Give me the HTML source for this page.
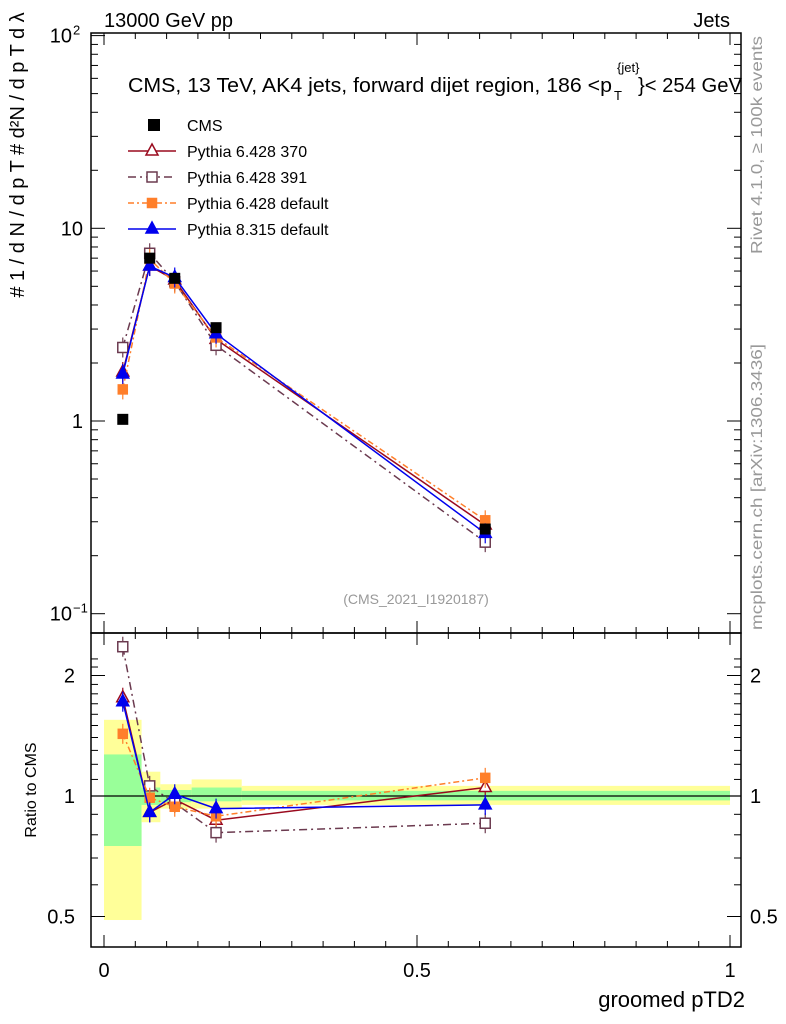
<!DOCTYPE html>
<html><head><meta charset="utf-8"><style>
body{margin:0;background:#fff;}
svg{display:block;font-family:"Liberation Sans",Arial,sans-serif;}
</style></head><body>
<svg id="c" width="786" height="1024" viewBox="0 0 786 1024" xmlns="http://www.w3.org/2000/svg"></svg>
<script>
// ---- data ----
const xCenters = [0.03, 0.073, 0.113, 0.179, 0.609];
const binEdges = [0, 0.06, 0.09, 0.14, 0.22, 1.0];
const cmsValues = [1.02, 7.0, 5.5, 3.05, 0.275];
const ratio370 = [1.76, 0.91, 0.98, 0.87, 1.05];
const ratio391 = [2.36, 1.06, 0.96, 0.81, 0.855];
const ratioP6def = [1.43, 0.99, 0.94, 0.89, 1.11];
const ratioP8 = [1.72, 0.91, 1.01, 0.93, 0.95];
const bandYellowHi = [1.55, 1.15, 1.07, 1.10, 1.06];
const bandYellowLo = [0.49, 0.86, 0.93, 0.93, 0.95];
const bandGreenHi = [1.27, 1.05, 1.035, 1.05, 1.03];
const bandGreenLo = [0.75, 0.95, 0.965, 0.97, 0.975];
const xTickLabels = ["0", "0.5", "1"];

const svg = document.getElementById('c');
const NS = 'http://www.w3.org/2000/svg';
function mk(tag, attrs, parent){const e=document.createElementNS(NS,tag);for(const k in attrs)e.setAttribute(k,attrs[k]);(parent||svg).appendChild(e);return e;}
const L=91,R=741,T1=33,B1=633,B2=947;
const xs = v => 104 + v*626;
const ysTop = v => 421 - Math.log10(v)*192.7;
const ysRat = v => 796 - Math.log2(v)*120.5;

// bands
for(let i=0;i<binEdges.length-1;i++){
  const x0=xs(binEdges[i]), x1=xs(binEdges[i+1]);
  let r=mk('rect',{x:x0,y:ysRat(bandYellowHi[i]),width:x1-x0,height:ysRat(bandYellowLo[i])-ysRat(bandYellowHi[i]),fill:'#ffff99'});
  
  
  let g=mk('rect',{x:x0,y:ysRat(bandGreenHi[i]),width:x1-x0,height:ysRat(bandGreenLo[i])-ysRat(bandGreenHi[i]),fill:'#99ff99'});
  
  
}
mk('line',{x1:L,x2:R,y1:ysRat(1),y2:ysRat(1),stroke:'#000','stroke-width':1.2});

// frames
const f1=mk('rect',{x:L,y:T1,width:R-L,height:B1-T1,fill:'none',stroke:'#000','stroke-width':1.5});


const f2=mk('rect',{x:L,y:B1,width:R-L,height:B2-B1,fill:'none',stroke:'#000','stroke-width':1.5});



// x ticks
for(let k=0;k<=20;k++){
  const v=k*0.05, x=xs(v), maj=(k%10===0), len=maj?12:6;
  [[T1,1],[B1,-1],[B1,1],[B2,-1]].forEach(([y,d])=>mk('line',{x1:x,x2:x,y1:y,y2:y+d*len,stroke:'#000','stroke-width':1}));
}
xTickLabels.forEach((t,i)=>{const e=mk('text',{x:xs(i*0.5),y:977,'font-size':20,'text-anchor':'middle'});e.textContent=t;
  
  });
// y ticks top (log)
for(let d=-1;d<2;d++)for(let m=1;m<10;m++){const v=m*Math.pow(10,d),y=ysTop(v);if(y<T1||y>B1)continue;const len=m===1?14:7;
  mk('line',{x1:L,x2:L+len,y1:y,y2:y,stroke:'#000'});mk('line',{x1:R,x2:R-len,y1:y,y2:y,stroke:'#000'});}
mk('line',{x1:L,x2:L+14,y1:ysTop(100),y2:ysTop(100),stroke:'#000'});
[["10",-1,"−1"],["1",0,""],["10",1,""],["10",2,"2"]].forEach(([b,p,s])=>{const e=mk('text',{x:s?72:83,y:ysTop(Math.pow(10,p))+7,'font-size':20,'text-anchor':'end'});e.textContent=b;
  
  
  if(s){const q=mk('text',{x:73,y:ysTop(Math.pow(10,p))-1,'font-size':13});q.textContent=s;}});
// y ticks ratio
[0.5,0.6,0.7,0.8,0.9,1,1.1,1.2,1.3,1.4,1.5,1.6,1.7,1.8,1.9,2,2.1,2.2].forEach(v=>{const y=ysRat(v);const maj=[0.5,1,2].includes(v);const len=maj?14:7;
  mk('line',{x1:L,x2:L+len,y1:y,y2:y,stroke:'#000'});mk('line',{x1:R,x2:R-len,y1:y,y2:y,stroke:'#000'});});
[["2",2],["1",1],["0.5",0.5]].forEach(([t,v])=>{let e=mk('text',{x:75,y:ysRat(v)+7,'font-size':20,'text-anchor':'end'});e.textContent=t;
  
  
  e=mk('text',{x:750,y:ysRat(v)+7,'font-size':20});e.textContent=t;
  
  });

// series
const series=[
 {name:'pythia6-370',r:ratio370,c:'#9a0a1e',dash:'',mk:'tri-open'},
 {name:'pythia6-391',r:ratio391,c:'#6b3a4f',dash:'8,4,2,4',mk:'sq-open'},
 {name:'pythia6-default',r:ratioP6def,c:'#ff7f2a',dash:'6,3,2,3',mk:'sq-fill'},
 {name:'pythia8-default',r:ratioP8,c:'#0000ee',dash:'',mk:'tri-fill'}];
function marker(type,x,y,c){
  if(type.startsWith('tri')){return mk('polygon',{points:`${x},${y-7} ${x-6},${y+4} ${x+6},${y+4}`,fill:type.endsWith('fill')?c:'#fff',stroke:c,'stroke-width':1.5});}
  const s=type.endsWith('fill')?4.5:5;
  return mk('rect',{x:x-s,y:y-s,width:2*s,height:2*s,fill:type.endsWith('fill')?c:'#fff',stroke:c,'stroke-width':1.5});
}
series.forEach(s=>{
  const topPts=xCenters.map((x,i)=>[xs(x),ysTop(s.r[i]*cmsValues[i])]);
  const ratPts=xCenters.map((x,i)=>[xs(x),ysRat(s.r[i])]);
  [topPts,ratPts].forEach((pts,pi)=>{
    const pl=mk('polyline',{points:pts.map(p=>p.join(',')).join(' '),fill:'none',stroke:s.c,'stroke-width':1.5,'stroke-dasharray':s.dash});
    
    
    pts.forEach(p=>{mk('line',{x1:p[0],x2:p[0],y1:p[1]-10,y2:p[1]+10,stroke:s.c,'stroke-width':1.2});
      const m=marker(s.mk,p[0],p[1],s.c);
      
      });
  });
});
// CMS data
xCenters.forEach((x,i)=>{const e=mk('rect',{x:xs(x)-5.5,y:ysTop(cmsValues[i])-5.5,width:11,height:11,fill:'#000'});
  
  });

// legend
const leg=[['CMS','#000','','sq-cms'],['Pythia 6.428 370','#9a0a1e','','tri-open'],['Pythia 6.428 391','#6b3a4f','8,4,2,4','sq-open'],['Pythia 6.428 default','#ff7f2a','6,3,2,3','sq-fill'],['Pythia 8.315 default','#0000ee','','tri-fill']];
leg.forEach((l,i)=>{const y=125+i*26;
  if(l[3]==='sq-cms'){mk('rect',{x:148,y:y-6,width:12,height:12,fill:'#000'});}
  else{mk('line',{x1:128,x2:176,y1:y,y2:y,stroke:l[1],'stroke-width':1.5,'stroke-dasharray':l[2]});marker(l[3],152,y,l[1]);}
  const t=mk('text',{x:187,y:y+6,'font-size':16});t.textContent=l[0];
  
  });

function txt(s,a,name){const e=mk('text',a);e.textContent=s;return e;}
txt('13000 GeV pp',{x:104,y:27,'font-size':20},'beam-label');
txt('Jets',{x:730,y:27,'font-size':20,'text-anchor':'end'},'process-label');
txt('CMS, 13 TeV, AK4 jets, forward dijet region, 186 <p',{x:128,y:92,'font-size':20,textLength:484,lengthAdjust:'spacingAndGlyphs'},'plot-title');
txt('T',{x:614,y:100,'font-size':13},'plot-title-sub');
txt('{jet}',{x:617,y:72,'font-size':13},'plot-title-sup');
txt('}< 254 GeV',{x:638,y:92,'font-size':20,textLength:104,lengthAdjust:'spacingAndGlyphs'},'plot-title-end');
txt('(CMS_2021_I1920187)',{x:416,y:604,'font-size':14,fill:'#999','text-anchor':'middle'},'analysis-id');
txt('groomed pTD2',{x:745,y:1007,'font-size':22,'text-anchor':'end'},'x-axis-title');
txt('Ratio to CMS',{x:0,y:0,'font-size':16,'text-anchor':'middle',transform:'translate(36,790) rotate(-90)'},'ratio-axis-title');
txt('# 1 / d N / d p T # d²N / d p T d λ',{x:0,y:0,'font-size':20,'text-anchor':'middle',transform:'translate(24,155) rotate(-90)'},'y-axis-title');
txt('Rivet 4.1.0, ≥ 100k events',{x:0,y:0,'font-size':16,fill:'#999','text-anchor':'middle',textLength:218,lengthAdjust:'spacingAndGlyphs',transform:'translate(762,145) rotate(-90)'},'rivet-label');
txt('mcplots.cern.ch [arXiv:1306.3436]',{x:0,y:0,'font-size':16,fill:'#999','text-anchor':'middle',textLength:286,lengthAdjust:'spacingAndGlyphs',transform:'translate(762,487) rotate(-90)'},'mcplots-label');
</script>
</body></html>
